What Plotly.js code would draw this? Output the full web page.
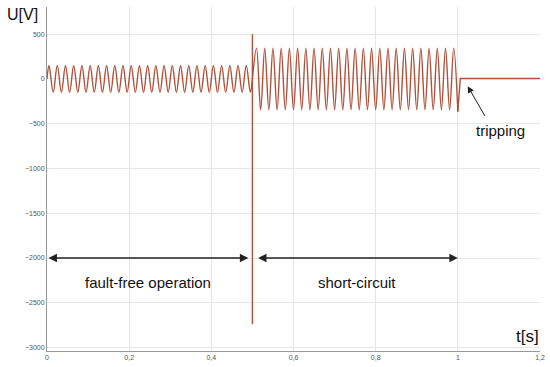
<!DOCTYPE html>
<html>
<head>
<meta charset="utf-8">
<script src="https://cdn.plot.ly/plotly-3.0.1.min.js"></script>
<style>html,body{margin:0;padding:0;background:#fff;}#chart{width:550px;height:367px;}</style>
</head>
<body>
<div id="chart"></div>
<script>
// Pre-fault segment: extremes of the 50 Hz voltage (t in s, U in V)
const tPre = [0, 0.005, 0.015, 0.025, 0.035, 0.045, 0.055, 0.065, 0.075, 0.085, 0.095,
  0.105, 0.115, 0.125, 0.135, 0.145, 0.155, 0.165, 0.175, 0.185, 0.195,
  0.205, 0.215, 0.225, 0.235, 0.245, 0.255, 0.265, 0.275, 0.285, 0.295,
  0.305, 0.315, 0.325, 0.335, 0.345, 0.355, 0.365, 0.375, 0.385, 0.395,
  0.405, 0.415, 0.425, 0.435, 0.445, 0.455, 0.465, 0.475, 0.485, 0.495, 0.5];
const uPre = [0, 150, -150, 150, -150, 150, -150, 150, -150, 150, -150,
  150, -150, 150, -150, 150, -150, 150, -150, 150, -150,
  150, -150, 150, -150, 150, -150, 150, -150, 150, -150,
  150, -150, 150, -150, 150, -150, 150, -150, 150, -150,
  150, -150, 150, -150, 150, -150, 150, -150, 150, -150, 0];
// Transient spike at fault inception
const tSpike = [0.5, 0.5, 0.5];
const uSpike = [500, -2740, 0];
// Short-circuit segment
const tFault = [0.5, 0.51, 0.52, 0.53, 0.54, 0.55, 0.56, 0.57, 0.58, 0.59, 0.60,
  0.61, 0.62, 0.63, 0.64, 0.65, 0.66, 0.67, 0.68, 0.69, 0.70,
  0.71, 0.72, 0.73, 0.74, 0.75, 0.76, 0.77, 0.78, 0.79, 0.80,
  0.81, 0.82, 0.83, 0.84, 0.85, 0.86, 0.87, 0.88, 0.89, 0.90,
  0.91, 0.92, 0.93, 0.94, 0.95, 0.96, 0.97, 0.98, 0.99, 1.0];
const uFault = [0, 345, -345, 345, -345, 345, -345, 345, -345, 345, -345,
  345, -345, 345, -345, 345, -345, 345, -345, 345, -345,
  345, -345, 345, -345, 345, -345, 345, -345, 345, -345,
  345, -345, 345, -345, 345, -345, 345, -345, 345, -345,
  345, -345, 345, -345, 345, -345, 345, -345, 345, -365];
// After tripping
const tTrip = [1.0, 1.006, 1.2];
const uTrip = [-365, 5, 5];
// Period markers
const phaseStart = [0, 0.51];
const phaseEnd = [0.49, 1.0];
const phaseLabels = ['fault-free operation', 'short-circuit'];
const phaseArrowU = -2000;
const phaseLabelU = -2270;
const xTicks = [0, 0.2, 0.4, 0.6, 0.8, 1, 1.2];
const yTicks = [500, 0, -500, -1000, -1500, -2000, -2500, -3000];

const lineColor = '#b0513a';
const lw = 1.4;
const traces = [
  {x: tPre, y: uPre, mode: 'lines', line: {color: lineColor, width: lw, shape: 'spline', smoothing: 1}, hoverinfo: 'skip'},
  {x: tSpike, y: uSpike, mode: 'lines', line: {color: lineColor, width: lw}, hoverinfo: 'skip'},
  {x: tFault, y: uFault, mode: 'lines', line: {color: lineColor, width: lw, shape: 'spline', smoothing: 1}, hoverinfo: 'skip'},
  {x: tTrip, y: uTrip, mode: 'lines', line: {color: lineColor, width: lw}, hoverinfo: 'skip'}
];

const font = 'Liberation Sans, Arial, sans-serif';
const annotations = [];
for (let i = 0; i < phaseStart.length; i++) {
  annotations.push({x: phaseEnd[i], y: phaseArrowU, ax: phaseStart[i], ay: phaseArrowU,
    xref: 'x', yref: 'y', axref: 'x', ayref: 'y', text: '', showarrow: true,
    arrowhead: 2, arrowsize: 1.3, arrowwidth: 1.3, arrowcolor: '#222', arrowside: 'end+start'});
  annotations.push({x: (phaseStart[i] + phaseEnd[i]) / 2, y: phaseLabelU, xref: 'x', yref: 'y',
    text: phaseLabels[i], showarrow: false, font: {family: font, size: 15, color: '#111'}});
}
annotations.push({x: 1.024, y: -80, ax: 1.068, ay: -430, xref: 'x', yref: 'y', axref: 'x', ayref: 'y',
  text: '', showarrow: true, arrowhead: 2, arrowsize: 1.3, arrowwidth: 1, arrowcolor: '#222'});
annotations.push({x: 1.105, y: -580, xref: 'x', yref: 'y', text: 'tripping', showarrow: false,
  font: {family: font, size: 15, color: '#111'}});
annotations.push({x: -0.085, y: 1.01, xref: 'paper', yref: 'paper', xanchor: 'left', yanchor: 'top', text: 'U[V]',
  showarrow: false, font: {family: font, size: 16, color: '#111'}});
annotations.push({x: 1.17, y: -2880, xref: 'x', yref: 'y', text: 't[s]', showarrow: false,
  font: {family: font, size: 17, color: '#111'}});

const layout = {
  width: 550, height: 367,
  margin: {l: 47, r: 10, t: 7, b: 16},
  paper_bgcolor: '#fff', plot_bgcolor: '#fff',
  showlegend: false,
  separators: ',.',
  xaxis: {range: [0, 1.2], tickvals: xTicks, showgrid: true, gridcolor: '#e6e6e6', gridwidth: 1,
    zeroline: false, showline: true, linecolor: '#999', linewidth: 1, ticks: '',
    tickfont: {family: font, size: 7, color: '#555'}, ticklabelstandoff: 0},
  yaxis: {range: [-3039, 804], tickvals: yTicks, showgrid: true, gridcolor: '#e6e6e6', gridwidth: 1,
    zeroline: false, showline: true, linecolor: '#999', linewidth: 1, ticks: '',
    tickfont: {family: font, size: 7, color: '#555'}},
  annotations: annotations
};
Plotly.newPlot('chart', traces, layout, {displayModeBar: false, staticPlot: true});
</script>
</body>
</html>
